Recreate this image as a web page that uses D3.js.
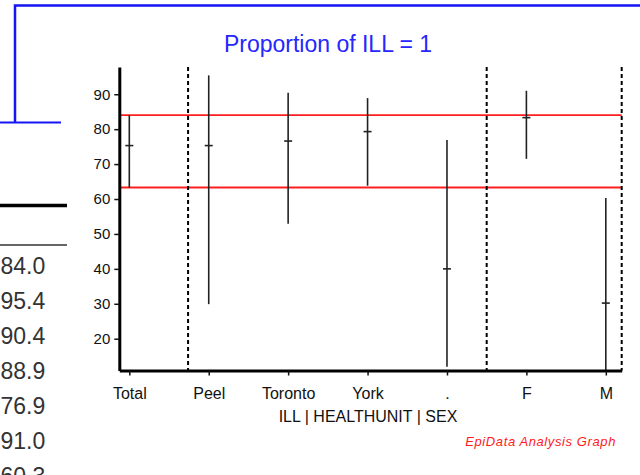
<!DOCTYPE html>
<html>
<head>
<meta charset="utf-8">
<script src="https://cdn.jsdelivr.net/npm/d3@7"></script>
<style>
  body { margin: 0; background: #fff; }
  svg { display: block; font-family: "Liberation Sans", Arial, sans-serif; }
</style>
</head>
<body>
<svg id="chart" width="640" height="475"></svg>
<script>
// categories along the x axis (ILL | HEALTHUNIT | SEX)
const categories = ["Total", "Peel", "Toronto", "York", ".", "F", "M"];
// proportion (%) and its confidence limits
const means = [75.3, 75.3, 76.6, 79.3, 40.0, 83.3, 30.2];
const lower = [63.3, 29.9, 52.9, 63.8, 12.0, 71.5, 11.0];
const upper = [84.0, 95.4, 90.4, 88.9, 76.9, 91.0, 60.3];
const yTicks = [20, 30, 40, 50, 60, 70, 80, 90];
// dashed separators between groups (in category units)
const groupBreaks = [0.74, 4.5, 6.2];

const svg = d3.select("#chart");

// bits of the program window behind the graph
const bg = svg.append("g");
bg.append("path")
  .attr("d", "M15,123 V5.5 H640")
  .attr("fill", "none").attr("stroke", "#1414f5").attr("stroke-width", 2.5);
bg.append("line")
  .attr("x1", 0).attr("x2", 61).attr("y1", 122.5).attr("y2", 122.5)
  .attr("stroke", "#1414f5").attr("stroke-width", 2);
bg.append("line")
  .attr("x1", 0).attr("x2", 67).attr("y1", 205.5).attr("y2", 205.5)
  .attr("stroke", "#000").attr("stroke-width", 3.5);
bg.append("line")
  .attr("x1", 0).attr("x2", 67).attr("y1", 245).attr("y2", 245)
  .attr("stroke", "#333").attr("stroke-width", 1.5);
bg.selectAll(".cell")
  .data(upper)
  .enter()
  .append("text")
  .attr("class", "cell")
  .attr("x", 0.5)
  .attr("y", (d, i) => 274 + i * 35)
  .attr("font-size", 23)
  .attr("fill", "#333")
  .text((d) => d3.format(".1f")(d));

// scales
const x = d3.scaleLinear().domain([-0.126, 6.2]).range([119.3, 621.7]);
const y = d3.scaleLinear().domain([10.9, 97.8]).range([370.5, 67]);

// title
svg.append("text")
  .attr("x", 328).attr("y", 52)
  .attr("text-anchor", "middle")
  .attr("font-size", 23)
  .attr("fill", "#2626ff")
  .text("Proportion of ILL = 1");

const chart = svg.append("g");

// reference lines at the Total confidence limits
chart.selectAll(".ref")
  .data([upper[0], lower[0]])
  .enter()
  .append("line")
  .attr("class", "ref")
  .attr("x1", x(-0.126)).attr("x2", x(6.2))
  .attr("y1", (d) => y(d)).attr("y2", (d) => y(d))
  .attr("stroke", "#ff1e1e").attr("stroke-width", 1.8);

// group separators
chart.selectAll(".sep")
  .data(groupBreaks)
  .enter()
  .append("line")
  .attr("class", "sep")
  .attr("x1", (d) => x(d)).attr("x2", (d) => x(d))
  .attr("y1", y(97.8)).attr("y2", y(10.9))
  .attr("stroke", "#000").attr("stroke-width", 2)
  .attr("stroke-dasharray", "4,3");

// error bars
const bars = chart.selectAll(".bar")
  .data(categories)
  .enter()
  .append("g")
  .attr("class", "bar");
bars.append("line")
  .attr("x1", (d, i) => x(i)).attr("x2", (d, i) => x(i))
  .attr("y1", (d, i) => y(Math.max(lower[i], 10.9)))
  .attr("y2", (d, i) => y(upper[i]))
  .attr("stroke", "#222").attr("stroke-width", 1.6);
bars.append("line")
  .attr("x1", (d, i) => x(i) - 4).attr("x2", (d, i) => x(i) + 4)
  .attr("y1", (d, i) => y(means[i])).attr("y2", (d, i) => y(means[i]))
  .attr("stroke", "#222").attr("stroke-width", 1.6);

// axes
const yAxis = chart.append("g")
  .attr("transform", "translate(119.3,0)")
  .call(d3.axisLeft(y).tickValues(yTicks).tickSize(5).tickSizeOuter(0).tickPadding(4));
const xAxis = chart.append("g")
  .attr("transform", "translate(0,370.5)")
  .call(d3.axisBottom(x).tickValues(d3.range(categories.length))
    .tickFormat((i) => categories[i]).tickSize(5).tickSizeOuter(0).tickPadding(12));

[yAxis, xAxis].forEach((a) => {
  a.select(".domain").attr("stroke", "#000").attr("stroke-width", 3);
  a.selectAll(".tick line").attr("stroke", "#111").attr("stroke-width", 1.5);
  a.selectAll("text").attr("fill", "#111").attr("font-family", "Liberation Sans, Arial, sans-serif");
});
yAxis.selectAll("text").attr("font-size", 15);
xAxis.selectAll("text").attr("font-size", 16);

// axis title
svg.append("text")
  .attr("x", 368).attr("y", 421.5)
  .attr("text-anchor", "middle")
  .attr("font-size", 16)
  .attr("fill", "#111")
  .text("ILL | HEALTHUNIT | SEX");

// footer
svg.append("text")
  .attr("x", 616).attr("y", 446)
  .attr("text-anchor", "end")
  .attr("font-size", 13)
  .attr("font-style", "italic")
  .attr("letter-spacing", 0.6)
  .attr("fill", "#ff1a1a")
  .text("EpiData Analysis Graph");
</script>
</body>
</html>
